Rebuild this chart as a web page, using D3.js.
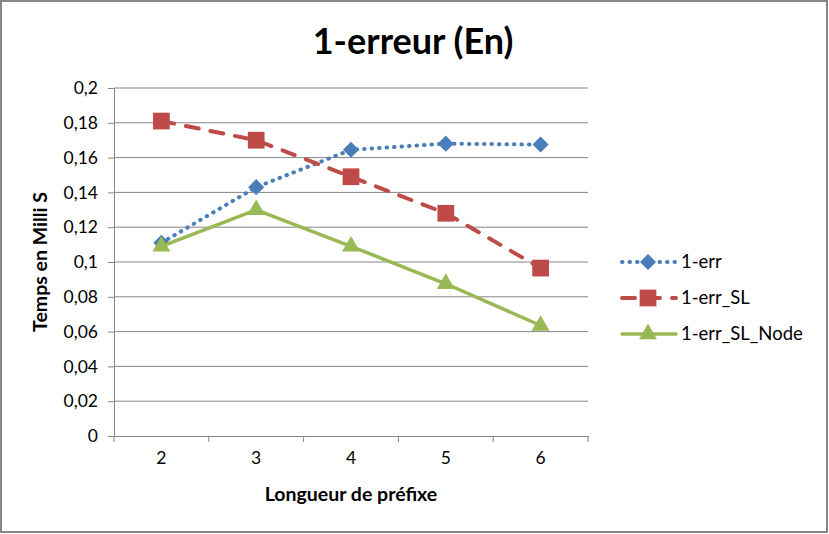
<!DOCTYPE html>
<html>
<head>
<meta charset="utf-8">
<script src="https://cdn.jsdelivr.net/npm/d3@7"></script>
<style>
  body { margin: 0; background: #fff; }
  text { font-family: Lato, "Open Sans", sans-serif; }
</style>
</head>
<body>
<div id="chart"></div>
<script>
// data
var categories = ["2", "3", "4", "5", "6"];
var err1 = [0.111, 0.143, 0.1645, 0.168, 0.1675];
var errSL = [0.181, 0.170, 0.149, 0.128, 0.0965];
var errSLNode = [0.109, 0.130, 0.109, 0.0875, 0.0635];
var yTicks = [0, 0.02, 0.04, 0.06, 0.08, 0.1, 0.12, 0.14, 0.16, 0.18, 0.2];
var seriesNames = ["1-err", "1-err_SL", "1-err_SL_Node"];

var width = 829, height = 534;
var plotLeft = 114, plotRight = 588, plotTop = 88, plotBottom = 436;

var svg = d3.select("#chart").append("svg")
    .attr("width", width)
    .attr("height", height);

// outer frame
svg.append("rect")
    .attr("x", 1).attr("y", 1)
    .attr("width", width - 3).attr("height", height - 3)
    .attr("fill", "#fff")
    .attr("stroke", "#868686")
    .attr("stroke-width", 2);

var x = d3.scaleBand().domain(categories).range([plotLeft, plotRight]);
var y = d3.scaleLinear().domain([0, 0.2]).range([plotBottom, plotTop]);

// gridlines
svg.append("g").selectAll("line")
    .data(yTicks.slice(1))
    .enter().append("line")
    .attr("x1", plotLeft).attr("x2", plotRight)
    .attr("y1", function(d) { return y(d); })
    .attr("y2", function(d) { return y(d); })
    .attr("stroke", "#868686")
    .attr("stroke-width", 1);

var fmt = function(d) { return d === 0 ? "0" : String(+d.toFixed(2)).replace(".", ","); };

var yAxis = svg.append("g")
    .attr("transform", "translate(" + plotLeft + ",0)")
    .call(d3.axisLeft(y).tickValues(yTicks).tickFormat(fmt).tickSize(6).tickPadding(10));

var xAxis = svg.append("g")
    .attr("transform", "translate(0," + plotBottom + ")")
    .call(d3.axisBottom(x).tickSize(0).tickPadding(16));

// category boundary ticks like the original
xAxis.selectAll(".bound")
    .data(d3.range(categories.length + 1))
    .enter().append("line")
    .attr("class", "bound")
    .attr("x1", function(i) { return plotLeft + i * x.step(); })
    .attr("x2", function(i) { return plotLeft + i * x.step(); })
    .attr("y1", 0).attr("y2", 6)
    .attr("stroke", "#868686");

[yAxis, xAxis].forEach(function(g) {
  g.selectAll(".domain").attr("stroke", "#868686");
  g.selectAll(".tick line").attr("stroke", "#868686");
  g.selectAll("text").attr("font-size", 17.5).attr("fill", "#000");
});

// title and axis titles
svg.append("text")
    .attr("x", 413).attr("y", 54)
    .attr("text-anchor", "middle")
    .attr("font-size", 36).attr("font-weight", "bold")
    .text("1-erreur (En)");

svg.append("text")
    .attr("x", 351).attr("y", 501)
    .attr("text-anchor", "middle")
    .attr("font-size", 19.5).attr("font-weight", "bold")
    .text("Longueur de préfixe");

svg.append("text")
    .attr("transform", "translate(47,262) rotate(-90)")
    .attr("text-anchor", "middle")
    .attr("font-size", 19.5).attr("font-weight", "bold")
    .text("Temps en Milli S");

var cx = function(d, i) { return x(categories[i]) + x.bandwidth() / 2; };

// diamond = square turned 45 degrees, like the spreadsheet marker
var series = [
  { name: seriesNames[0], values: err1, color: "#4a7ebb", dash: "0.5,7", width: 4, shape: d3.symbolSquare, size: 130, rot: 45 },
  { name: seriesNames[1], values: errSL, color: "#be4b48", dash: "13,12", width: 4, shape: d3.symbolSquare, size: 280, rot: 0 },
  { name: seriesNames[2], values: errSLNode, color: "#98b954", dash: null, width: 3.5, shape: d3.symbolTriangle, size: 140, rot: 0 }
];

var line = d3.line()
    .x(cx)
    .y(function(d) { return y(d); });

series.forEach(function(s) {
  svg.append("path")
      .datum(s.values)
      .attr("d", line)
      .attr("fill", "none")
      .attr("stroke", s.color)
      .attr("stroke-width", s.width)
      .attr("stroke-linecap", "round")
      .attr("stroke-dasharray", s.dash);
  svg.append("g").selectAll("path")
      .data(s.values)
      .enter().append("path")
      .attr("transform", function(d, i) { return "translate(" + cx(d, i) + "," + y(d) + ") rotate(" + s.rot + ")"; })
      .attr("d", d3.symbol().type(s.shape).size(s.size))
      .attr("fill", s.color);
});

// legend
var legend = svg.append("g").attr("transform", "translate(620,0)");
series.forEach(function(s, i) {
  var ly = 262 + i * 36;
  legend.append("line")
      .attr("x1", 2).attr("x2", 56)
      .attr("y1", ly).attr("y2", ly)
      .attr("stroke", s.color)
      .attr("stroke-width", s.width)
      .attr("stroke-linecap", "round")
      .attr("stroke-dasharray", s.dash);
  legend.append("path")
      .attr("transform", "translate(28," + ly + ") rotate(" + s.rot + ")")
      .attr("d", d3.symbol().type(s.shape).size(s.size))
      .attr("fill", s.color);
  legend.append("text")
      .attr("x", 61).attr("y", ly + 6)
      .attr("font-size", 18.5)
      .text(s.name);
});
</script>
</body>
</html>
